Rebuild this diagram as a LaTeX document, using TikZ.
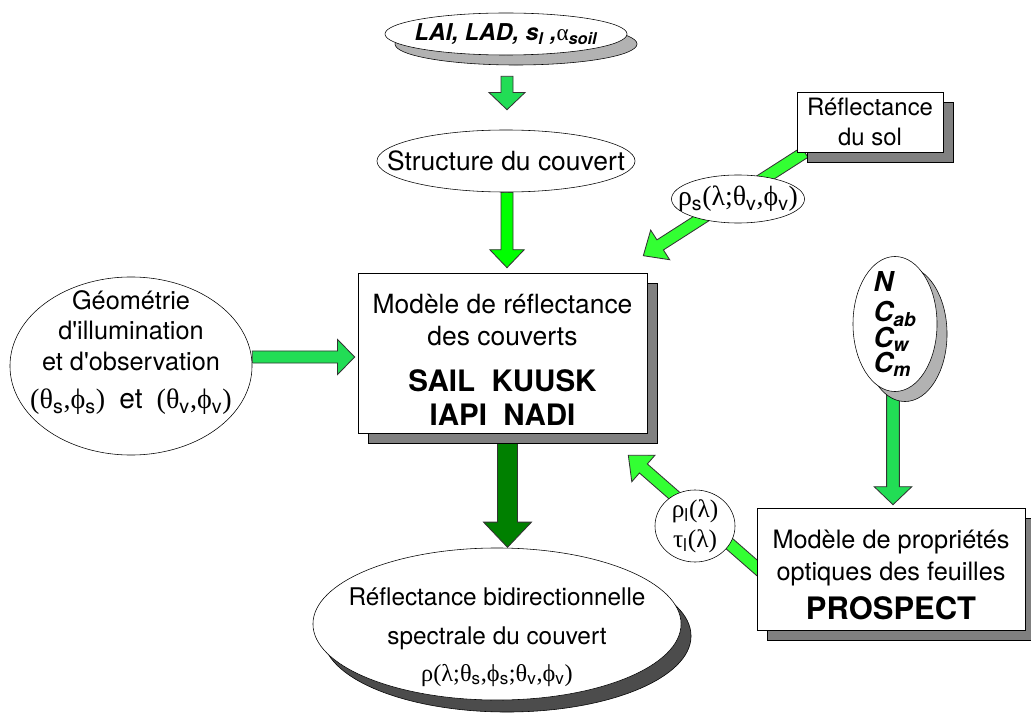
\documentclass[tikz,border=0pt]{standalone}
\usepackage{fontspec}
\setmainfont{TeX Gyre Heros}
\newfontfamily\grfont{Liberation Serif}
\usetikzlibrary{shapes.geometric,shadows,calc,backgrounds}

\definecolor{verdemedio}{HTML}{22DD55}
\definecolor{verdevivo}{HTML}{00FF00}
\definecolor{verdeacceso}{HTML}{33FF33}
\definecolor{verdescuro}{HTML}{008000}

\newcommand\gr[1]{{\grfont #1}}
\newcommand\dn[1]{\textsubscript{#1}}
\newcommand\fs[2]{\fontsize{#1}{#2}\selectfont}

% freccia piena: stile, inizio, fine, mezza larghezza, mezza punta, lunghezza punta
\newcommand\blockarrow[6]{%
  \coordinate (ba-s) at (#2);
  \coordinate (ba-e) at (#3);
  \coordinate (ba-h) at ($(ba-e)!#6!(ba-s)$);
  \draw[#1] ($(ba-s)!#4!90:(ba-e)$) -- ($(ba-h)!#4!90:(ba-e)$) -- ($(ba-h)!#5!90:(ba-e)$)
    -- (ba-e) -- ($(ba-h)!#5!-90:(ba-e)$) -- ($(ba-h)!#4!-90:(ba-e)$) -- ($(ba-s)!#4!-90:(ba-e)$) -- cycle;}

\begin{document}
\begin{tikzpicture}[x=0.025cm,y=-0.025cm,font=\fs{18}{21.5}]

        % Stili dei blocchi
        \tikzstyle{riquadro}=[rectangle, draw, fill=white, align=center, inner sep=0pt]
        \tikzstyle{ovale}=[ellipse, draw, fill=white, align=center, inner xsep=-1.5cm, inner ysep=-0.6cm]
        \tikzstyle{ombrachiara}=[drop shadow={shadow xshift=0.25cm, shadow yshift=-0.25cm, fill=black!30, draw=black, opacity=1}]
        \tikzstyle{ombragrigia}=[drop shadow={shadow xshift=0.25cm, shadow yshift=-0.25cm, fill=black!50, draw=black, opacity=1}]
        \tikzstyle{ombrascura}=[drop shadow={shadow xshift=0.25cm, shadow yshift=-0.3cm, fill=black!70, draw=black, opacity=1}]
        \tikzstyle{freccia}=[draw=black!80, line width=0.6pt]

        \useasboundingbox (0,0) rectangle (1031,715);

        % Parametri di struttura in alto
        \node[ovale, ombrachiara, minimum width=6.05cm, minimum height=1.05cm, font=\fs{16.5}{20}] (lai) at (506,34)
            {{\bfseries\itshape LAI, LAD, s\dn{l} ,}\gr{α}\dn{\bfseries\itshape soil}};
        \node[ovale, minimum width=6.45cm, minimum height=1.55cm, font=\fs{18.8}{22}] (struct) at (506,161)
            {Structure du couvert};

        % Modello di riflettanza delle coperture
        \node[riquadro, ombragrigia, minimum width=7.225cm, minimum height=4cm, font=\fs{18.8}{22.8}] (modele) at (502.5,353)
            {\rule{0pt}{23pt}Modèle de réflectance\\des couverts\\[10pt]
             \fs{21}{22.8}\bfseries SAIL~~KUUSK\\[1pt]
             \fs{21}{22.8}\bfseries IAPI~~NADI};

        % Geometria a sinistra
        \node[ovale, minimum width=6.05cm, minimum height=4.45cm, text depth=23pt] (geo) at (131,366)
            {Géométrie\\d\textquotesingle illumination\\et d\textquotesingle observation\\[6pt]
             \fs{20}{22}\gr{(θ}\dn{s}\gr{,ϕ}\dn{s}\gr{)}\enspace et\enspace\gr{(θ}\dn{v}\gr{,ϕ}\dn{v}\gr{)}};

        % Suolo
        \node[riquadro, ombragrigia, minimum width=3.65cm, minimum height=1.5cm, font=\fs{17}{21}] (sol) at (870,122)
            {Réflectance\\du sol};
        \node[ovale, minimum width=3.325cm, minimum height=1.2cm, font=\fs{19.8}{22}] (rhos) at (738,199)
            {\gr{ρ}\dn{s}\gr{(λ;θ}\dn{v}\gr{,ϕ}\dn{v}\gr{)}};

        % Parametri fogliari e PROSPECT
        \node[ovale, ombrachiara, minimum width=2.1cm, minimum height=3.375cm, align=left,
              font=\fs{19.5}{18}\bfseries\itshape] (feuille) at (895,324)
            {N\\[4pt]C\dn{ab}\\C\dn{w}\\C\dn{m}};
        \node[riquadro, ombragrigia, minimum width=6.7cm, minimum height=3.05cm, font=\fs{18}{22.8}] (prospect) at (891,569)
            {\rule{0pt}{22pt}Modèle de propriétés\\optiques des feuilles\\[5pt]
             \fs{22}{24}\bfseries PROSPECT};
        \node[ovale, minimum width=2cm, minimum height=1.8cm] (rhol) at (695,526)
            {\gr{ρ}\dn{l}\gr{(λ)}\\\gr{τ}\dn{l}\gr{(λ)}};

        % Riflettanza bidirezionale in basso
        \node[ovale, ombrascura, minimum width=9.2cm, minimum height=3.8cm, font=\fs{17.3}{21}] (brdf) at (497,624)
            {\rule{0pt}{31pt}Réflectance bidirectionnelle\\[7pt]spectrale du couvert\\[5pt]
             \gr{ρ(λ;θ}\dn{s}\gr{,ϕ}\dn{s}\gr{;θ}\dn{v}\gr{,ϕ}\dn{v}\gr{)}};

        % Frecce (sotto i blocchi)
        \begin{scope}[on background layer]
            \blockarrow{freccia, fill=verdemedio}{$(lai.south)+(1,21)$}{$(struct.north)+(1,-20)$}{0.15cm}{0.45cm}{0.43cm}
            \blockarrow{freccia, fill=verdevivo}{$(struct.south)+(1,0)$}{$(modele.north -| struct.south)+(1,-5)$}{0.15cm}{0.43cm}{0.45cm}
            \blockarrow{freccia, fill=verdemedio}{$(geo.east)+(0,-9)$}{$(modele.west)+(-3,4)$}{0.15cm}{0.44cm}{0.43cm}
            \blockarrow{freccia, fill=verdeacceso}{$(sol.south west)+(8,0)$}{$(modele.north east)+(-4,-17)$}{0.15cm}{0.44cm}{0.5cm}
            \blockarrow{freccia, fill=verdemedio}{$(feuille.south)+(-2,0)$}{$(prospect.north)+(2,-3)$}{0.16cm}{0.47cm}{0.45cm}
            \blockarrow{freccia, fill=verdeacceso}{$(prospect.west)+(5,3)$}{$(modele.south east)+(-19,22)$}{0.15cm}{0.44cm}{0.5cm}
            \blockarrow{freccia, fill=verdescuro}{$(modele.south)+(5,0)$}{$(modele.south)+(5,114)$}{0.25cm}{0.6cm}{0.63cm}
        \end{scope}

    \end{tikzpicture}
\end{document}
